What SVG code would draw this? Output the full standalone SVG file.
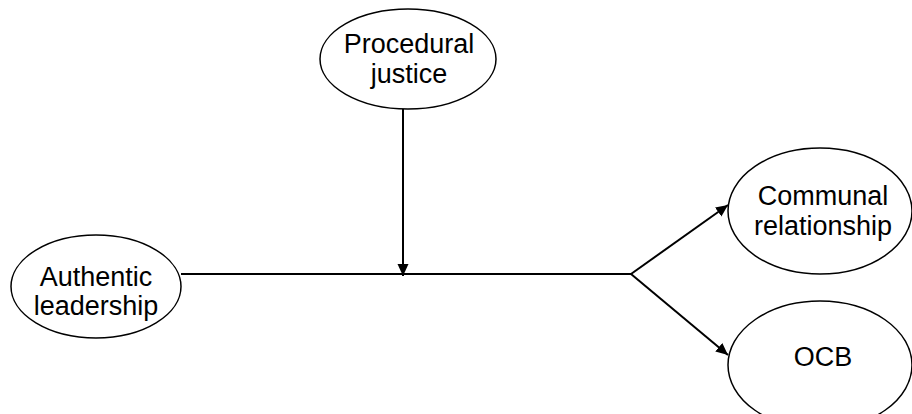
<svg xmlns="http://www.w3.org/2000/svg" width="912" height="414" viewBox="0 0 912 414">
<style>
.node ellipse{fill:#fff;stroke:#000;stroke-width:1.5}
.node text{font-family:"Liberation Sans",Arial,sans-serif;font-size:27px;fill:#000;text-anchor:middle}
.conn{fill:none;stroke:#000;stroke-width:2}
</style>
<defs>
<marker id="ah" viewBox="0 0 12 12" refX="12" refY="6" markerWidth="12" markerHeight="12" markerUnits="userSpaceOnUse" orient="auto">
<path d="M0,0.5 L12,6 L0,11.5 Z" fill="#000"/>
</marker>
</defs>
<rect width="912" height="414" fill="#fff"/>
<g id="connectors">
<line class="conn" x1="181" y1="274" x2="631" y2="274"/>
<line class="conn" x1="403" y1="109" x2="403" y2="276" marker-end="url(#ah)"/>
<line class="conn" x1="631" y1="274" x2="728" y2="205" marker-end="url(#ah)"/>
<line class="conn" x1="631" y1="274" x2="728" y2="355" marker-end="url(#ah)"/>
</g>
<g id="procedural-justice" class="node">
<ellipse cx="408" cy="59" rx="88" ry="50"/>
<text x="409" y="53">Procedural</text>
<text x="409" y="83">justice</text>
</g>
<g id="authentic-leadership" class="node">
<ellipse cx="96" cy="286.5" rx="85" ry="51.5"/>
<text x="96" y="286">Authentic</text>
<text x="96" y="315">leadership</text>
</g>
<g id="communal-relationship" class="node">
<ellipse cx="820" cy="211" rx="92" ry="63"/>
<text x="823" y="205">Communal</text>
<text x="823" y="235">relationship</text>
</g>
<g id="ocb" class="node">
<ellipse cx="820" cy="365" rx="92" ry="64"/>
<text x="823" y="366">OCB</text>
</g>
</svg>
